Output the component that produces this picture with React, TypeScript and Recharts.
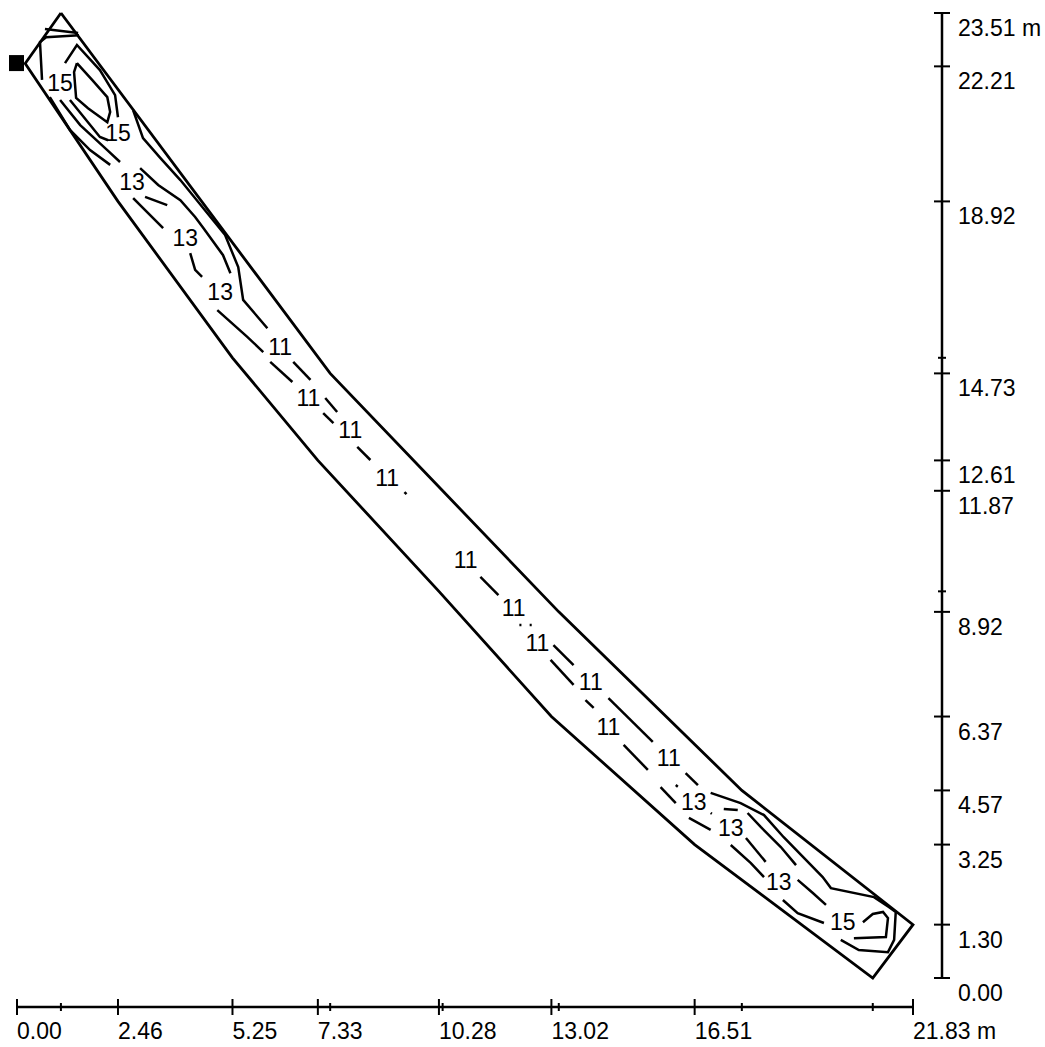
import { ComposedChart, Line, Scatter, XAxis, YAxis, ReferenceLine } from "recharts";

type Pt = { x: number; y: number };
const pts = (a: number[][]): Pt[] => a.map(([x, y]) => ({ x, y }));

// axes (m)
const X_MAX = 21.83;
const Y_MAX = 23.51;
const xMajor = [0, 2.46, 5.25, 7.33, 10.28, 13.02, 16.51, 21.83];
const xMinor = [1.07, 7.63, 10.37, 13.2, 17.66, 20.85];
const yMajor = [0, 1.3, 3.25, 4.57, 6.37, 8.92, 11.87, 12.61, 14.73, 18.92, 22.21, 23.51];
const yMinor = [9.42, 15.11];

// road outline
const outline = [
  [1.07, 23.51], [7.63, 14.73], [10.37, 11.87], [13.2, 8.92], [17.66, 4.57], [21.83, 1.3],
  [20.85, 0], [16.51, 3.25], [13.02, 6.37], [10.28, 9.42], [7.33, 12.61], [5.25, 15.11],
  [2.46, 18.92], [0.2, 22.28], [1.07, 23.51],
];

// luminaire marker
const marker = [{ x: 0, y: 22.29 }];

// isolines, top end
const capTop = [[0.68, 23.12], [1.49, 23.02]];
const hookTop = [[0.61, 21.88], [0.56, 22.8], [0.71, 22.92], [1.51, 22.97]];
const outer15Top = [[1.17, 22.29], [1.46, 22.73], [2.02, 22.12], [2.39, 21.51], [2.46, 20.97]];
const inner15Top = [
  [1.46, 22.29], [1.83, 21.88], [2.2, 21.46], [2.27, 21.1], [2.2, 20.85],
  [1.73, 21.19], [1.44, 21.44], [1.39, 22.07], [1.46, 22.29],
];
const lowA = [[0.8, 21.46], [1.29, 20.66], [1.78, 20.17], [2.27, 19.81]];
const lowB = [[1.05, 21.39], [1.54, 20.78], [2.2, 20.17], [2.51, 19.88]];
const lowC = [[1.29, 21.39], [2.02, 20.49], [2.22, 20.41]];
const upper13 = [
  [2.83, 21.14], [3.07, 20.46], [3.49, 19.98], [3.98, 19.44], [5.07, 18.1],
  [5.39, 17.32], [5.51, 16.52], [6.1, 15.83],
];
const mid13 = [
  [3.0, 19.73], [3.44, 19.32], [3.98, 18.95], [4.34, 18.54], [4.54, 18.27],
  [5.02, 17.61], [5.2, 17.17],
];
const low13a = [[2.83, 19.0], [3.56, 18.27]];
const low13b = [[3.12, 19.03], [3.66, 18.83]];
const low13c = [[4.22, 17.66], [4.34, 17.25], [4.51, 17.08]];
const low13d = [[4.88, 16.27], [5.61, 15.62], [6.0, 15.25]];

// isolines, middle
const mid11 = [
  [[6.17, 15.01], [6.71, 14.52]],
  [[6.73, 15.01], [7.15, 14.57]],
  [[7.51, 14.13], [7.8, 13.79]],
  [[7.46, 13.76], [7.71, 13.52]],
  [[8.29, 12.94], [8.61, 12.62]],
  [[9.44, 11.84], [9.49, 11.79]],
  [[11.29, 9.77], [11.73, 9.33]],
  [[12.24, 8.6], [12.29, 8.6]],
  [[12.49, 8.6], [12.54, 8.6]],
  [[13.07, 8.11], [13.56, 7.62]],
  [[13.0, 7.75], [13.56, 7.14]],
  [[14.41, 6.82], [15.49, 5.75]],
  [[13.85, 6.77], [14.05, 6.58]],
  [[14.78, 5.68], [15.37, 5.07]],
  [[16.29, 4.99], [16.59, 4.7]],
  [[16.05, 4.7], [16.1, 4.66]],
  [[15.68, 4.65], [16.05, 4.26]],
];

// isolines, bottom end
const outer15Bot = [
  [16.9, 4.51], [17.63, 4.26], [18.2, 3.97], [18.68, 3.43], [19.63, 2.46], [19.83, 2.19],
  [20.88, 1.97], [21.24, 1.73], [21.41, 1.61], [21.37, 0.93], [21.22, 0.63], [20.51, 0.68],
  [20.07, 0.93],
];
const dashBot = [[17.22, 4.12], [17.56, 4.09]];
const dotBot = [[16.9, 4.02], [16.93, 4.0]];
const up13a = [[17.8, 4.02], [18.12, 3.68], [18.61, 3.19], [18.98, 2.75]];
const up13b = [[19.02, 2.39], [19.39, 2.07], [19.71, 1.78]];
const lo13a = [[16.37, 3.9], [16.9, 3.61]];
const lo13b = [[17.39, 3.24], [17.88, 2.8], [18.2, 2.46]];
const lo13c = [[17.76, 3.41], [18.24, 2.83]];
const lo13d = [[18.66, 1.9], [19.02, 1.58], [19.66, 1.34]];
const inner15Bot = [[20.61, 1.36], [20.85, 1.56], [21.1, 1.61], [21.22, 1.46], [21.17, 1.0], [20.39, 0.97]];

const isolines = [
  capTop, hookTop, outer15Top, inner15Top, lowA, lowB, lowC, upper13, mid13,
  low13a, low13b, low13c, low13d, ...mid11, outer15Bot, dashBot, dotBot,
  up13a, up13b, lo13a, lo13b, lo13c, lo13d, inner15Bot,
];

// isoline labels
const labelX = [1.05, 2.46, 2.8, 4.1, 4.95, 6.41, 7.1, 8.12, 9.02, 10.93, 12.1, 12.68, 13.98, 14.41, 15.88, 16.49, 17.39, 18.56, 20.12];
const labelY = [21.8, 20.58, 19.39, 18.03, 16.71, 15.37, 14.13, 13.35, 12.18, 10.18, 9.01, 8.16, 7.21, 6.11, 5.36, 4.29, 3.65, 2.34, 1.36];
const labelText = ["15", "15", "13", "13", "13", "11", "11", "11", "11", "11", "11", "11", "11", "11", "11", "13", "13", "13", "15"];
const labels = labelX.map((x, i) => ({ x, y: labelY[i], t: labelText[i] }));

const GAP = 29;
const FONT = '"Liberation Sans", Arial, sans-serif';
const FS = 23;

const XTick = (props: any) => {
  const { x, y, payload } = props;
  const v = payload.value as number;
  const major = xMajor.includes(v);
  const ay = y + GAP;
  const len = major ? 8 : 4;
  return (
    <g>
      <line x1={x} x2={x} y1={ay - len} y2={ay + len} stroke="#000" strokeWidth={2} />
      {major && (
        <text x={x} y={ay + 32} fontSize={FS} fontFamily={FONT} fill="#000">
          {v.toFixed(2) + (v === X_MAX ? " m" : "")}
        </text>
      )}
    </g>
  );
};

const YTick = (props: any) => {
  const { x, y, payload } = props;
  const v = payload.value as number;
  const major = yMajor.includes(v);
  const ax = x + GAP;
  const len = major ? 8 : 4;
  return (
    <g>
      <line x1={ax - len} x2={ax + len} y1={y} y2={y} stroke="#000" strokeWidth={2} />
      {major && (
        <text x={ax + 16} y={y + 23} fontSize={FS} fontFamily={FONT} fill="#000">
          {v.toFixed(2) + (v === Y_MAX ? " m" : "")}
        </text>
      )}
    </g>
  );
};

export default function App() {
  return (
    <div style={{ position: "absolute", left: 0, top: 0, background: "#fff" }}>
      <ComposedChart width={1045} height={1047} margin={{ top: 13, right: 32, bottom: 9, left: 17 }}>
        <XAxis
          type="number"
          dataKey="x"
          domain={[0, X_MAX]}
          ticks={[...xMajor, ...xMinor].sort((a, b) => a - b)}
          interval={0}
          tick={(p: any) => <XTick {...p} />}
          tickLine={false}
          axisLine={false}
          tickSize={0}
          tickMargin={0}
          height={60}
        />
        <YAxis
          type="number"
          dataKey="y"
          orientation="right"
          domain={[0, Y_MAX]}
          ticks={[...yMajor, ...yMinor].sort((a, b) => a - b)}
          interval={0}
          tick={(p: any) => <YTick {...p} />}
          tickLine={false}
          axisLine={false}
          tickSize={0}
          tickMargin={0}
          width={100}
        />
        <ReferenceLine
          y={0}
          shape={(p: any) => (
            <line x1={p.x1} x2={p.x2} y1={p.y1 + GAP} y2={p.y2 + GAP} stroke="#000" strokeWidth={2.5} />
          )}
        />
        <ReferenceLine
          x={X_MAX}
          shape={(p: any) => (
            <line x1={p.x1 + GAP} x2={p.x2 + GAP} y1={p.y1} y2={p.y2} stroke="#000" strokeWidth={2.5} />
          )}
        />
        <Line
          data={pts(outline)}
          dataKey="y"
          type="linear"
          stroke="#000"
          strokeWidth={2.8}
          dot={false}
          activeDot={false}
          isAnimationActive={false}
        />
        {isolines.map((seg, i) => (
          <Line
            key={i}
            data={pts(seg)}
            dataKey="y"
            type="linear"
            stroke="#000"
            strokeWidth={2.5}
            dot={false}
            activeDot={false}
            isAnimationActive={false}
          />
        ))}
        <Scatter
          data={marker}
          dataKey="y"
          isAnimationActive={false}
          shape={(p: any) => <rect x={p.cx - 8} y={p.cy - 8} width={15} height={16} fill="#000" />}
        />
        <Scatter
          data={labels}
          dataKey="y"
          isAnimationActive={false}
          shape={(p: any) => (
            <text
              x={p.cx}
              y={p.cy}
              textAnchor="middle"
              dominantBaseline="central"
              fontSize={FS}
              fontFamily={FONT}
              fill="#000"
            >
              {p.payload.t}
            </text>
          )}
        />
      </ComposedChart>
    </div>
  );
}
